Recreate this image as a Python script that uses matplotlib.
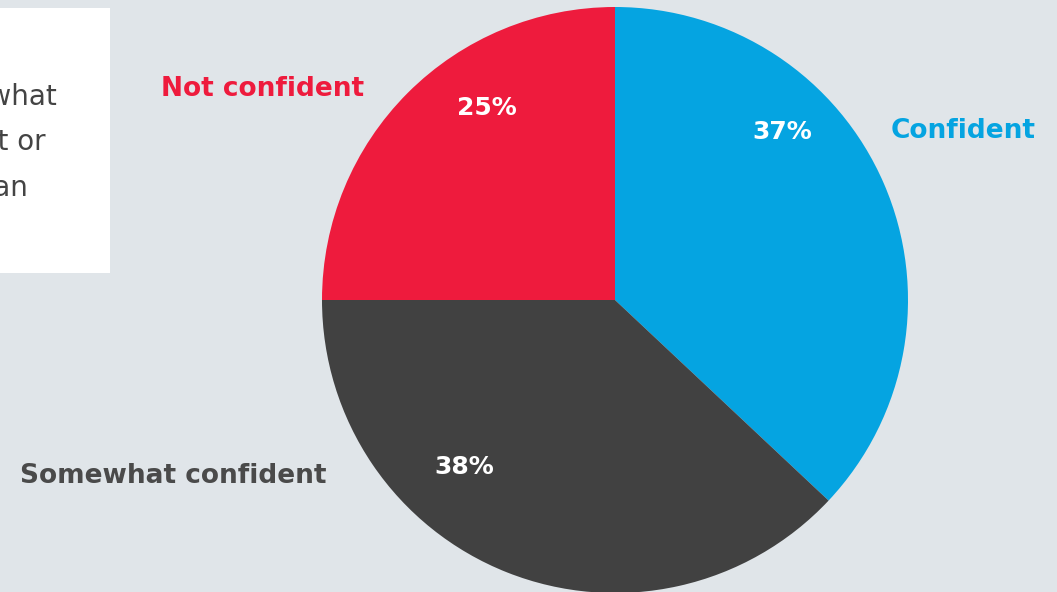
import matplotlib.pyplot as plt
from matplotlib.patches import Rectangle

# Confidence breakdown (percent of respondents)
labels = ["Confident", "Somewhat confident", "Not confident"]
values = [37, 38, 25]
colors = ["#05A4E1", "#414141", "#EE1B3D"]
label_colors = ["#05A4E1", "#4A4A4A", "#EE1B3D"]

BG = "#E0E5E9"
W, H = 1057, 592

fig = plt.figure(figsize=(W / 100, H / 100), dpi=100, facecolor=BG)
ax = fig.add_axes([0, 0, 1, 1])
ax.set_facecolor(BG)

# pie laid out in pixel space (y measured from the bottom)
cx, cy, r = 615, H - 300, 293
ax.pie(values, colors=colors, startangle=90, counterclock=False,
       center=(cx, cy), radius=r, wedgeprops=dict(linewidth=0))
ax.set_xlim(0, W)
ax.set_ylim(0, H)
ax.set_aspect("equal")
ax.axis("off")

font = "DejaVu Sans"

# category labels outside the pie
cat_pos = [(1036, 131, "right"), (326, 476, "right"), (364, 89, "right")]
for lab, col, (x, y, ha) in zip(labels, label_colors, cat_pos):
    ax.text(x, H - y, lab, color=col, fontsize=19, fontweight="bold",
            ha=ha, va="center", family=font)

# percentage labels inside the wedges
pct_pos = [(782, 132), (464, 467), (487, 108)]
for v, (x, y) in zip(values, pct_pos):
    ax.text(x, H - y, f"{v}%", color="white", fontsize=18, fontweight="bold",
            ha="center", va="center", family=font)

# callout box on the left, partly off the canvas
ax.add_patch(Rectangle((-20, H - 273), 130, 265, facecolor="white",
                       edgecolor="none", zorder=0))
box_lines = [("somewhat", 57, 97), ("confident or", 46, 142), ("more than", 28, 188)]
for txt, x, y in box_lines:
    ax.text(x, H - y, txt, color="#444444", fontsize=20, ha="right",
            va="center", family=font)

fig.savefig("out.png", dpi=100, facecolor=BG)
